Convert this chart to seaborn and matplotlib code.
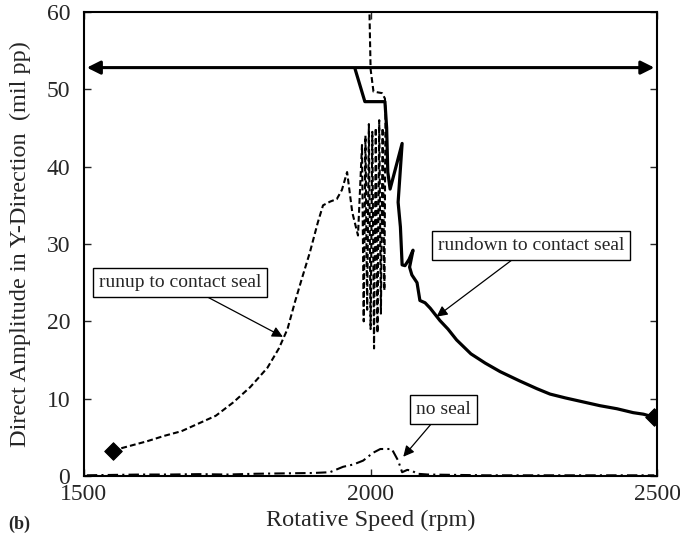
import numpy as np
import pandas as pd
import matplotlib
matplotlib.use("Agg")
import matplotlib.pyplot as plt
import seaborn as sns

# Run-up to contact seal (dashed)
runup_rpm = [1550, 1580, 1610, 1640, 1670, 1700, 1730, 1760, 1790, 1820, 1840,
             1855, 1868, 1880, 1894, 1908, 1917, 1930, 1941, 1950, 1959, 1968,
             1978, 1985, 1988, 1991, 1994, 1997, 2000, 2003, 2006, 2009, 2012,
             2015, 2018, 2021, 2024, 2026, 2025, 2020, 2005, 2000, 1998]
runup_amp = [3.3, 3.9, 4.5, 5.2, 5.8, 6.8, 7.8, 9.5, 11.5, 14.0, 16.5,
             19.0, 22.5, 25.5, 28.9, 32.8, 35.0, 35.5, 35.8, 37.0, 39.3, 34.1,
             31.1, 42.8, 20.0, 44.0, 21.5, 45.5, 19.0, 44.5, 16.5, 45.0, 18.5,
             46.0, 21.0, 45.0, 24.0, 47.0, 48.8, 49.5, 49.7, 52.6, 60.0]

# Run-down to contact seal (solid)
rundown_rpm = [1973, 1990, 2025, 2028, 2030, 2034, 2055, 2048, 2052, 2055, 2060,
               2067, 2074, 2068, 2072, 2081, 2086, 2095, 2104, 2121, 2135, 2150,
               2175, 2200, 2226, 2260, 2290, 2313, 2340, 2370, 2400, 2430, 2458,
               2476, 2495]
rundown_amp = [52.6, 48.4, 48.4, 45.0, 39.3, 37.1, 43.0, 35.4, 32.2, 27.3, 27.2,
               28.0, 29.2, 27.0, 26.0, 25.0, 22.7, 22.4, 21.7, 20.1, 19.0, 17.6,
               15.8, 14.6, 13.5, 12.3, 11.3, 10.6, 10.1, 9.6, 9.1, 8.7, 8.2,
               8.0, 7.6]

# No seal (dash-dot)
noseal_rpm = [1505, 1550, 1600, 1650, 1700, 1750, 1800, 1850, 1900, 1929, 1952,
              1970, 1987, 2004, 2017, 2037, 2048, 2055, 2064, 2072, 2081, 2100,
              2150, 2200, 2300, 2400, 2495]
noseal_amp = [0.1, 0.15, 0.2, 0.2, 0.25, 0.2, 0.3, 0.35, 0.4, 0.5, 1.2,
              1.5, 2.0, 3.0, 3.5, 3.5, 2.0, 0.5, 0.8, 0.7, 0.3, 0.2,
              0.15, 0.1, 0.1, 0.1, 0.1]

# Start / end markers
end_rpm = [1550, 2495]
end_amp = [3.3, 7.6]

# Critical-speed band arrow
band_rpm = [1505, 2495]
band_amp = 52.8

x_ticks = [1500, 2000, 2500]
y_ticks = [0, 10, 20, 30, 40, 50, 60]

sns.set_theme(style="ticks")
plt.rcParams["font.family"] = ["Liberation Serif", "DejaVu Serif"]

fig = plt.figure(figsize=(6.8, 5.41), dpi=100)
ax = fig.add_axes([0.1235, 0.12, 0.843, 0.858])

runup = pd.DataFrame({"rpm": runup_rpm, "amp": runup_amp})
rundown = pd.DataFrame({"rpm": rundown_rpm, "amp": rundown_amp})
noseal = pd.DataFrame({"rpm": noseal_rpm, "amp": noseal_amp})

sns.lineplot(data=runup, x="rpm", y="amp", ax=ax, sort=False, estimator=None,
             color="black", lw=1.5, linestyle=(0, (2.8, 1.5)))
sns.lineplot(data=rundown, x="rpm", y="amp", ax=ax, sort=False, estimator=None,
             color="black", lw=2.3)
sns.lineplot(data=noseal, x="rpm", y="amp", ax=ax, sort=False, estimator=None,
             color="black", lw=1.5, linestyle=(0, (5, 2, 1, 2)))
sns.scatterplot(x=end_rpm, y=end_amp, ax=ax, marker="D", s=80, color="black",
                edgecolor="black", zorder=5)

ax.annotate("", xy=(band_rpm[0], band_amp), xytext=(band_rpm[1], band_amp),
            arrowprops=dict(arrowstyle="<|-|>", color="black", lw=2.2,
                            mutation_scale=20, shrinkA=0, shrinkB=0))

box = dict(boxstyle="square,pad=0.3", fc="white", ec="black", lw=1.0)
arr = dict(arrowstyle="-|>", color="black", lw=0.9, mutation_scale=16,
           shrinkA=0, shrinkB=0)
ax.annotate("runup to contact seal", xy=(1847, 18.0), xytext=(1668, 25.0),
            ha="center", va="center", fontsize=14, bbox=box, arrowprops=arr)
ax.annotate("rundown to contact seal", xy=(2115, 20.6), xytext=(2280, 29.8),
            ha="center", va="center", fontsize=14, bbox=box, arrowprops=arr)
ax.annotate("no seal", xy=(2057, 2.5), xytext=(2127, 8.6),
            ha="center", va="center", fontsize=14, bbox=box, arrowprops=arr)

ax.set_xlim(1500, 2500)
ax.set_ylim(0, 60)
ax.set_xticks(x_ticks)
ax.set_yticks(y_ticks)
ax.tick_params(direction="in", top=True, right=True, length=5, width=1,
               labelsize=17)
ax.tick_params(axis="y", pad=10)
ax.tick_params(axis="x", pad=6)
for s in ax.spines.values():
    s.set_linewidth(1.5)
    s.set_color("black")
ax.set_xlabel("Rotative Speed (rpm)", fontsize=17.5, labelpad=3)
ax.set_ylabel("Direct Amplitude in Y-Direction  (mil pp)", fontsize=17.5, labelpad=11)
fig.text(0.012, 0.022, "(b)", fontsize=13, fontweight="bold")

fig.savefig("out.png", dpi=100)
